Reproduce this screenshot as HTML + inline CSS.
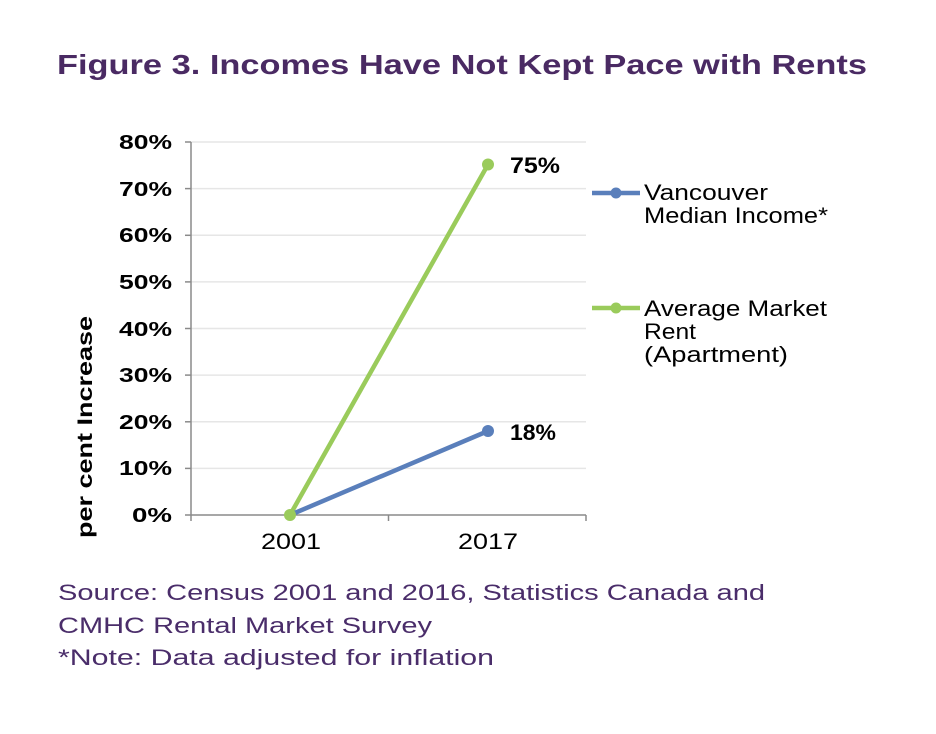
<!DOCTYPE html>
<html>
<head>
<meta charset="utf-8">
<style>
html,body{margin:0;padding:0;background:#fff;}
svg{display:block;}
text{font-family:"Liberation Sans",sans-serif;}
</style>
</head>
<body>
<svg width="936" height="734" viewBox="0 0 936 734" xmlns="http://www.w3.org/2000/svg">
  <!-- Title -->
  <text x="57" y="74" font-size="28" font-weight="bold" fill="#4a2a63" textLength="810" lengthAdjust="spacingAndGlyphs">Figure 3. Incomes Have Not Kept Pace with Rents</text>

  <!-- gridlines -->
  <g stroke="#e6e6e6" stroke-width="1.5">
    <line x1="191" y1="142" x2="586" y2="142"/>
    <line x1="191" y1="188.6" x2="586" y2="188.6"/>
    <line x1="191" y1="235.3" x2="586" y2="235.3"/>
    <line x1="191" y1="281.9" x2="586" y2="281.9"/>
    <line x1="191" y1="328.5" x2="586" y2="328.5"/>
    <line x1="191" y1="375.1" x2="586" y2="375.1"/>
    <line x1="191" y1="421.8" x2="586" y2="421.8"/>
    <line x1="191" y1="468.4" x2="586" y2="468.4"/>
  </g>

  <!-- axes -->
  <g stroke="#8a8a8a" stroke-width="1.5" fill="none">
    <line x1="191" y1="142" x2="191" y2="515"/>
    <line x1="185" y1="515" x2="586" y2="515"/>
    <line x1="185" y1="142" x2="191" y2="142"/>
    <line x1="185" y1="188.6" x2="191" y2="188.6"/>
    <line x1="185" y1="235.3" x2="191" y2="235.3"/>
    <line x1="185" y1="281.9" x2="191" y2="281.9"/>
    <line x1="185" y1="328.5" x2="191" y2="328.5"/>
    <line x1="185" y1="375.1" x2="191" y2="375.1"/>
    <line x1="185" y1="421.8" x2="191" y2="421.8"/>
    <line x1="185" y1="468.4" x2="191" y2="468.4"/>
    <line x1="191" y1="515" x2="191" y2="521"/>
    <line x1="388.5" y1="515" x2="388.5" y2="521"/>
    <line x1="586" y1="515" x2="586" y2="521"/>
  </g>

  <!-- y tick labels -->
  <g font-size="20" font-weight="bold" fill="#000" text-anchor="end">
    <text x="172" y="149" textLength="53" lengthAdjust="spacingAndGlyphs">80%</text>
    <text x="172" y="196" textLength="53" lengthAdjust="spacingAndGlyphs">70%</text>
    <text x="172" y="242" textLength="53" lengthAdjust="spacingAndGlyphs">60%</text>
    <text x="172" y="289" textLength="53" lengthAdjust="spacingAndGlyphs">50%</text>
    <text x="172" y="336" textLength="53" lengthAdjust="spacingAndGlyphs">40%</text>
    <text x="172" y="382" textLength="53" lengthAdjust="spacingAndGlyphs">30%</text>
    <text x="172" y="429" textLength="53" lengthAdjust="spacingAndGlyphs">20%</text>
    <text x="172" y="475" textLength="53" lengthAdjust="spacingAndGlyphs">10%</text>
    <text x="172" y="522" textLength="40" lengthAdjust="spacingAndGlyphs">0%</text>
  </g>

  <!-- y axis title -->
  <text transform="translate(92,538) rotate(-90)" font-size="21" font-weight="bold" fill="#000" textLength="222" lengthAdjust="spacingAndGlyphs">per cent Increase</text>

  <!-- x labels -->
  <g font-size="22" fill="#000" text-anchor="middle">
    <text x="291" y="549" textLength="60" lengthAdjust="spacingAndGlyphs">2001</text>
    <text x="488" y="549" textLength="60" lengthAdjust="spacingAndGlyphs">2017</text>
  </g>

  <!-- series -->
  <polyline points="290,515 488,164.5" fill="none" stroke="#9acb5b" stroke-width="4.5" stroke-linecap="round"/>
  <polyline points="290,515 488,431" fill="none" stroke="#5a7fbb" stroke-width="4.5" stroke-linecap="round"/>
  <circle cx="488" cy="164.5" r="6" fill="#9acb5b"/>
  <circle cx="488" cy="431" r="6" fill="#5a7fbb"/>
  <circle cx="290" cy="515" r="6" fill="#9acb5b"/>

  <!-- data labels -->
  <g font-size="22" font-weight="bold" fill="#000">
    <text x="510" y="173" textLength="50" lengthAdjust="spacingAndGlyphs">75%</text>
    <text x="510" y="440" textLength="46" lengthAdjust="spacingAndGlyphs">18%</text>
  </g>

  <!-- legend -->
  <line x1="592" y1="193" x2="640" y2="193" stroke="#5a7fbb" stroke-width="4.5"/>
  <circle cx="616" cy="193" r="5.5" fill="#5a7fbb"/>
  <line x1="592" y1="308" x2="640" y2="308" stroke="#9acb5b" stroke-width="4.5"/>
  <circle cx="616" cy="308" r="5.5" fill="#9acb5b"/>
  <g font-size="22" fill="#000">
    <text x="644" y="200" textLength="124" lengthAdjust="spacingAndGlyphs">Vancouver</text>
    <text x="644" y="223" textLength="184" lengthAdjust="spacingAndGlyphs">Median Income*</text>
    <text x="644" y="316" textLength="183" lengthAdjust="spacingAndGlyphs">Average Market</text>
    <text x="644" y="339" textLength="52" lengthAdjust="spacingAndGlyphs">Rent</text>
    <text x="644" y="362" textLength="144" lengthAdjust="spacingAndGlyphs">(Apartment)</text>
  </g>

  <!-- source -->
  <g font-size="22" fill="#4a2d6a">
    <text x="58" y="600" textLength="707" lengthAdjust="spacingAndGlyphs">Source: Census 2001 and 2016, Statistics Canada and</text>
    <text x="58" y="633" textLength="374" lengthAdjust="spacingAndGlyphs">CMHC Rental Market Survey</text>
    <text x="58" y="665" textLength="436" lengthAdjust="spacingAndGlyphs">*Note: Data adjusted for inflation</text>
  </g>
</svg>
</body>
</html>
